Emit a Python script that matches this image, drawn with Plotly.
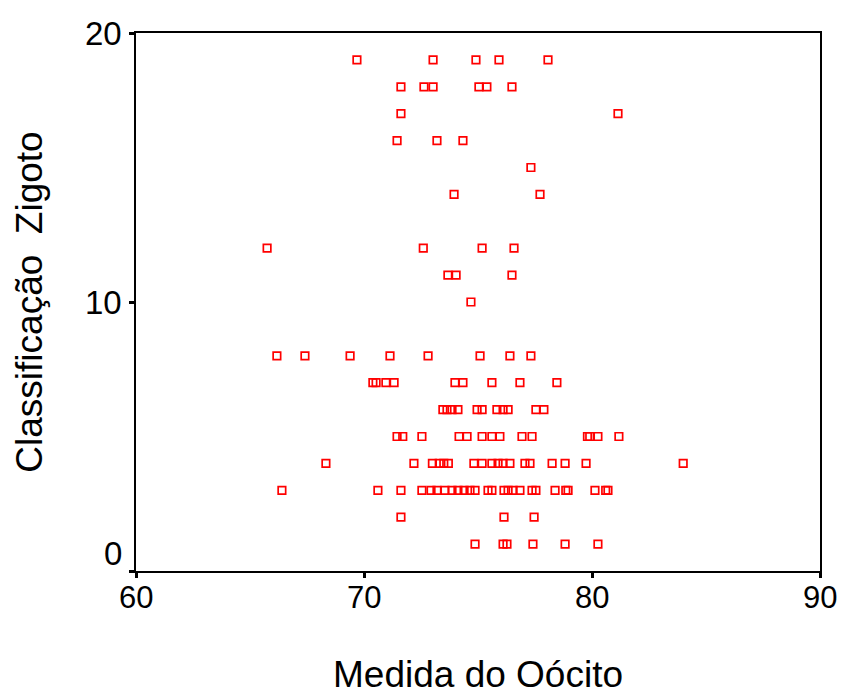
import plotly.graph_objects as go

# Oocyte measurement (x) and zygote classification (y), one entry per observation
medida_oocito = [
    69.69, 73.03, 74.91, 75.92, 78.07,
    71.62, 72.63, 73.03, 75.04, 75.39, 76.49,
    71.62, 81.14,
    71.45, 73.20, 74.34,
    77.32,
    73.95, 77.72,
    65.75, 72.60, 75.18, 76.58,
    73.68, 74.04, 76.49,
    74.69,
    66.18, 67.41, 69.39, 71.14, 72.81, 75.09, 76.40, 77.32,
    70.39, 70.53, 70.96, 71.32, 73.99, 74.34, 75.61, 76.84, 78.46,
    73.46, 73.64, 73.86, 74.12, 74.96, 75.18, 75.83, 76.10, 76.32, 77.54, 77.89,
    71.45, 71.70, 72.54, 74.17, 74.52, 75.18, 75.61, 75.96, 76.93, 77.37, 79.80, 79.90, 80.26, 81.18,
    68.33, 72.19, 73.00, 73.30, 73.50, 73.70, 74.82, 75.18, 75.61, 75.88, 76.10, 76.40, 77.06, 77.28,
    78.25, 78.82, 79.74, 84.00,
    66.40, 70.61, 71.62, 72.54, 72.94, 73.20, 73.55, 73.86, 74.12, 74.39, 74.65, 74.87, 75.44, 75.61,
    76.14, 76.32, 76.54, 76.84, 77.37, 77.54, 78.38, 78.85, 78.95, 80.13, 80.60, 80.70,
    71.62, 76.14, 77.46,
    74.87, 76.10, 76.27, 77.41, 78.82, 80.26,
]

classificacao_zigoto = (
    [19] * 5 + [18] * 6 + [17] * 2 + [16] * 3 + [15] * 1 + [14] * 2
    + [12] * 4 + [11] * 3 + [10] * 1 + [8] * 8 + [7] * 9 + [6] * 11
    + [5] * 14 + [4] * 18 + [3] * 26 + [2] * 3 + [1] * 6
)

x_ticks = [60, 70, 80, 90]
y_ticks = [0, 10, 20]

FONT = "Liberation Sans, Arial, sans-serif"
X_TICK_SIZE = 31
Y_TICK_SIZE = 33
TITLE_SIZE = 37

fig = go.Figure(
    go.Scatter(
        x=medida_oocito,
        y=classificacao_zigoto,
        mode="markers",
        marker=dict(symbol="square-open", size=7.5, color="#FF0000",
                    line=dict(width=1.7, color="#FF0000")),
        hoverinfo="x+y",
    )
)

axis_common = dict(
    showline=True, linecolor="black", linewidth=2, mirror=True,
    showgrid=False, zeroline=False, automargin=False, showticklabels=False,
    ticks="outside", ticklen=5, tickwidth=3, tickcolor="black",
)

fig.update_xaxes(range=[60, 90], tickvals=x_ticks, **axis_common)
fig.update_yaxes(
    range=[0, 20], tickvals=y_ticks,
    title=dict(text="Classificação  Zigoto", font=dict(family=FONT, size=TITLE_SIZE, color="black"),
               standoff=75),
    **axis_common,
)

# x-axis title sits close to the bottom edge of the page
fig.add_annotation(
    x=0.5, xref="paper", y=0, yref="paper", text="Medida do Oócito", showarrow=False,
    xanchor="center", yanchor="middle", yshift=-103,
    font=dict(family=FONT, size=TITLE_SIZE, color="black"),
)

# tick labels placed beside the ticks; the lowest y label sits just above the corner
for v in x_ticks:
    fig.add_annotation(
        x=v, xref="x", y=0, yref="paper", text=str(v), showarrow=False,
        xanchor="center", yanchor="middle", yshift=-26,
        font=dict(family=FONT, size=X_TICK_SIZE, color="black"),
    )
for v in y_ticks:
    fig.add_annotation(
        x=0, xref="paper", y=v, yref="y", text=str(v), showarrow=False,
        xanchor="right", yanchor="middle", xshift=-12, yshift=18 if v == 0 else 0,
        font=dict(family=FONT, size=Y_TICK_SIZE, color="black"),
    )

fig.update_layout(
    width=841, height=698,
    margin=dict(l=136, r=21, t=33, b=127),
    paper_bgcolor="white", plot_bgcolor="white",
    showlegend=False,
)

fig.write_html("out.html")
